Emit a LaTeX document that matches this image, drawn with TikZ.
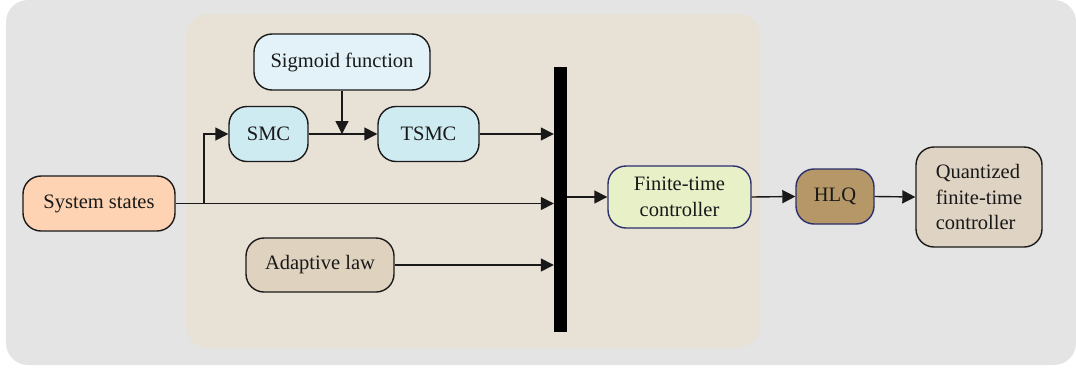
\documentclass[tikz,border=0pt]{standalone}
\usepackage{fontspec}
\setmainfont{Liberation Serif}
\usetikzlibrary{arrows.meta}
\definecolor{outerbg}{HTML}{E4E4E4}
\definecolor{innerbg}{HTML}{E8E1D6}
\definecolor{peach}{HTML}{FDD3B3}
\definecolor{sigblue}{HTML}{E2F2F8}
\definecolor{smcblue}{HTML}{CFEBF2}
\definecolor{adapt}{HTML}{DFD3C0}
\definecolor{fingreen}{HTML}{E8F0C8}
\definecolor{hlqbrown}{HTML}{B59768}
\definecolor{quant}{HTML}{DFD4C3}
\definecolor{navy}{HTML}{2B2F6B}
\definecolor{edge}{HTML}{1A1A1A}
\tikzset{
  blk/.style={draw=edge, line width=1.4pt, rounded corners=18pt, inner sep=0pt,
    font=\fontsize{20.5}{25.5}\selectfont, text=black!90, align=center},
  conn/.style={draw=black!90, line width=1.4pt, -{Triangle[length=13pt,width=13pt]}},
  plain/.style={draw=black!90, line width=1.4pt}
}
\begin{document}
\begin{tikzpicture}[x=1pt,y=-1pt]
\useasboundingbox (0,0) rectangle (1076,370);
\fill[outerbg, rounded corners=22pt] (6,0) rectangle (1076,365);
\fill[innerbg, rounded corners=22pt] (186,14) rectangle (760,348);

\node[blk, fill=peach, minimum width=152pt, minimum height=55pt] (sys) at (99,203.5) {System states};
\node[blk, fill=sigblue, minimum width=176pt, minimum height=56pt] (sig) at (342,62) {Sigmoid function};
\node[blk, fill=smcblue, minimum width=79pt, minimum height=55pt] (smc) at (268.5,134) {SMC};
\node[blk, fill=smcblue, minimum width=101pt, minimum height=55pt] (tsmc) at (428.5,134) {TSMC};
\node[blk, fill=adapt, minimum width=148pt, minimum height=54pt] (adp) at (320,265) {Adaptive law};
\node[fill=black, draw=none, minimum width=13pt, minimum height=265pt, inner sep=0pt] (bar) at (560.5,199.5) {};
\node[blk, draw=navy, fill=fingreen, minimum width=143pt, minimum height=62pt] (fin) at (679.5,197) {Finite-time\\controller};
\node[blk, draw=navy, fill=hlqbrown, minimum width=78pt, minimum height=55pt] (hlq) at (835,196.5) {HLQ};
\node[blk, fill=quant, minimum width=126pt, minimum height=100pt, align=left] (qnt) at (979,197) {Quantized\\finite-time\\controller};

\coordinate (br) at (204,203.5);
\draw[plain] (sys.east) -- (br);
\draw[conn] (br) |- (smc.west);
\draw[conn] (br) -- (sys.east -| bar.west);
\draw[conn] (smc.east) -- (tsmc.west);
\draw[conn] (sig.south) -- (sig.south |- smc.east);
\draw[conn] (tsmc.east) -- (tsmc.east -| bar.west);
\draw[conn] (adp.east) -- (adp.east -| bar.west);
\draw[conn] (bar.east |- fin.west) -- (fin.west);
\draw[conn] (fin.east) -- (hlq.west);
\draw[conn] (hlq.east) -- (qnt.west);
\end{tikzpicture}
\end{document}
